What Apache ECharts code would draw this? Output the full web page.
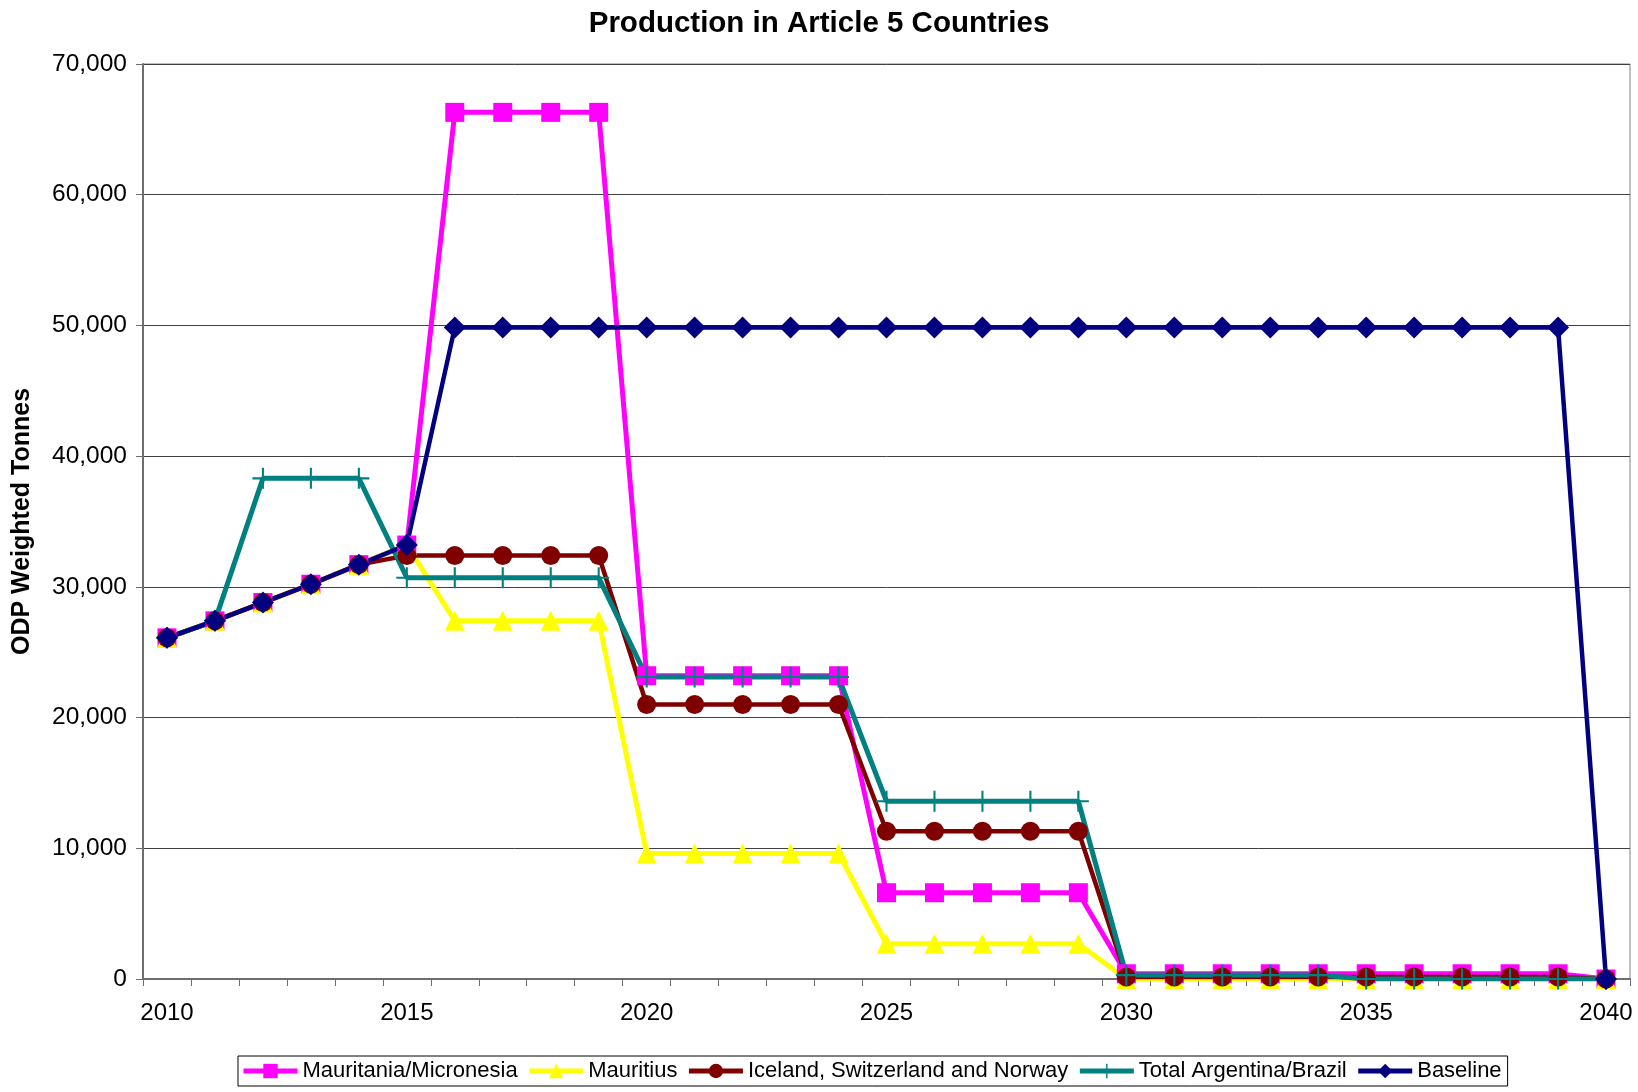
<!DOCTYPE html>
<html>
<head>
<meta charset="utf-8">
<title>Production in Article 5 Countries</title>
<script src="https://cdn.jsdelivr.net/npm/echarts@6/dist/echarts.min.js"></script>
<style>
  html, body { margin: 0; padding: 0; background: #fff; }
  #chart { width: 1638px; height: 1092px; }
</style>
</head>
<body>
<div id="chart"></div>
<script>
// Years on the category axis
const years = ['2010','2011','2012','2013','2014','2015','2016','2017','2018','2019',
  '2020','2021','2022','2023','2024','2025','2026','2027','2028','2029',
  '2030','2031','2032','2033','2034','2035','2036','2037','2038','2039','2040'];

// ODP weighted tonnes per scenario
const mauritaniaMicronesia = [26100, 27400, 28800, 30200, 31700, 33200,
  66300, 66300, 66300, 66300,
  23200, 23200, 23200, 23200, 23200,
  6600, 6600, 6600, 6600, 6600,
  400, 400, 400, 400, 400, 400, 400, 400, 400, 400,
  0];
const mauritius = [26100, 27400, 28800, 30200, 31700, 33200,
  27400, 27400, 27400, 27400,
  9600, 9600, 9600, 9600, 9600,
  2700, 2700, 2700, 2700, 2700,
  0, 0, 0, 0, 0, 0, 0, 0, 0, 0,
  0];
const icelandSwitzerlandNorway = [26100, 27400, 28800, 30200, 31700, 32400,
  32400, 32400, 32400, 32400,
  21000, 21000, 21000, 21000, 21000,
  11300, 11300, 11300, 11300, 11300,
  150, 150, 150, 150, 150, 150, 150, 150, 150, 150,
  0];
const totalArgentinaBrazil = [26100, 27400, 38300, 38300, 38300, 30700,
  30700, 30700, 30700, 30700,
  23100, 23100, 23100, 23100, 23100,
  13600, 13600, 13600, 13600, 13600,
  300, 300, 300, 300, 300, 0, 0, 0, 0, 0,
  0];
const baseline = [26100, 27400, 28800, 30200, 31700, 33200,
  49850, 49850, 49850, 49850, 49850, 49850, 49850, 49850, 49850, 49850,
  49850, 49850, 49850, 49850, 49850, 49850, 49850, 49850, 49850, 49850,
  49850, 49850, 49850, 49850,
  0];

const seriesNames = ['Mauritania/Micronesia', 'Mauritius', 'Iceland, Switzerland and Norway',
  'Total Argentina/Brazil', 'Baseline'];

const FONT = '"Liberation Sans", Arial, Helvetica, sans-serif';
// thin upright cross used as the Argentina/Brazil marker
const plusSymbol = 'path://M9,0H11V20H9Z M0,9H20V11H0Z';

function thousands(v) {
  return String(v).replace(/\B(?=(\d{3})+(?!\d))/g, ',');
}

function lineSeries(name, data, color, symbol, size, width) {
  return {
    name: name,
    type: 'line',
    data: data,
    symbol: symbol,
    symbolSize: size,
    showAllSymbol: true,
    lineStyle: { color: color, width: width },
    itemStyle: { color: color, opacity: 1 },
    emphasis: { disabled: true }
  };
}

const chart = echarts.init(document.getElementById('chart'), null, { renderer: 'canvas' });

chart.setOption({
  animation: false,
  backgroundColor: '#ffffff',
  textStyle: { fontFamily: FONT },
  title: {
    text: 'Production in Article 5 Countries',
    left: 'center',
    top: 4,
    textStyle: { fontFamily: FONT, fontSize: 29.5, fontWeight: 'bold', color: '#000' }
  },
  grid: {
    left: 143, right: 8, top: 64, bottom: 113,
    show: true, borderColor: '#808080', borderWidth: 1
  },
  legend: {
    data: seriesNames,
    left: 238,
    top: 1056,
    orient: 'horizontal',
    padding: [4, 6, 4, 3],
    itemGap: 9,
    itemWidth: 54,
    itemHeight: 18,
    borderColor: '#000',
    borderWidth: 1,
    lineStyle: { width: 5 },
    textStyle: { fontFamily: FONT, fontSize: 22, color: '#000' }
  },
  xAxis: {
    type: 'category',
    data: years,
    boundaryGap: true,
    axisLine: { lineStyle: { color: '#6e6e6e', width: 2 } },
    axisTick: { show: true, interval: 0, length: 7, inside: false, lineStyle: { color: '#6e6e6e', width: 1 } },
    axisLabel: { interval: 4, margin: 22, fontFamily: FONT, fontSize: 24, color: '#000' },
    splitLine: { show: false }
  },
  yAxis: {
    type: 'value',
    min: 0,
    max: 70000,
    interval: 10000,
    name: 'ODP Weighted Tonnes',
    nameLocation: 'middle',
    nameRotate: 90,
    nameGap: 108,
    nameTextStyle: { fontFamily: FONT, fontSize: 25, fontWeight: 'bold', color: '#000' },
    axisLine: { show: true, lineStyle: { color: '#6e6e6e', width: 2 } },
    axisTick: { show: true, length: 7, lineStyle: { color: '#6e6e6e', width: 1 } },
    axisLabel: { margin: 16, fontFamily: FONT, fontSize: 24.5, color: '#000', formatter: thousands },
    splitLine: { show: true, lineStyle: { color: '#404040', width: 1 } }
  },
  series: [
    lineSeries(seriesNames[0], mauritaniaMicronesia, '#FF00FF', 'rect', 19, 5),
    lineSeries(seriesNames[1], mauritius, '#FFFF00', 'triangle', 20, 5),
    lineSeries(seriesNames[2], icelandSwitzerlandNorway, '#800000', 'circle', 19, 4.5),
    lineSeries(seriesNames[3], totalArgentinaBrazil, '#008080', plusSymbol, 21, 5),
    lineSeries(seriesNames[4], baseline, '#000080', 'diamond', 22, 4.5)
  ]
});
</script>
</body>
</html>
